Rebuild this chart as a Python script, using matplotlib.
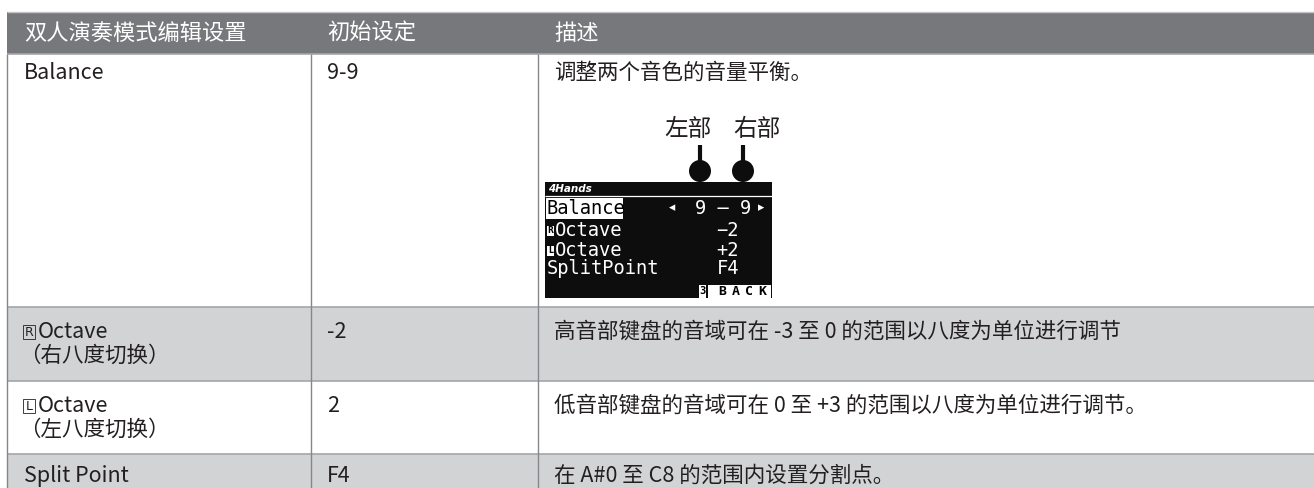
import matplotlib
matplotlib.use("Agg")
import matplotlib.pyplot as plt
from matplotlib.patches import Rectangle, Circle

plt.rcParams['font.family'] = ['Noto Sans CJK SC', 'DejaVu Sans']

# ---------------- data ----------------
headers = ["双人演奏模式编辑设置", "初始设定", "描述"]
param_names = ["Balance", "Octave", "Octave", "Split Point"]
param_icons = [None, "R", "L", None]
param_subs = [None, "（右八度切换）", "（左八度切换）", None]
defaults = ["9-9", "-2", "2", "F4"]
descriptions = [
    "调整两个音色的音量平衡。",
    "高音部键盘的音域可在 -3 至 0 的范围以八度为单位进行调节",
    "低音部键盘的音域可在 0 至 +3 的范围以八度为单位进行调节。",
    "在 A#0 至 C8 的范围内设置分割点。",
]
row_shaded = [False, True, False, True]

callout_labels = ["左部", "右部"]
lcd_title = "4Hands"
lcd_labels = ["Balance", "Octave", "Octave", "SplitPoint"]
lcd_icons = [None, "R", "L", None]
lcd_values = ["9 – 9", "−2", "+2", "F4"]
lcd_page = "3"
lcd_button = "BACK"

# ---------------- layout ----------------
W, H = 1314, 488
HEAD_BG = "#77787c"
ROW_BG = "#d1d3d4"
WHITE_BG = "#ffffff"
LINE = "#a4a6a9"
VLINE = "#86878a"
TXT = "#231f20"
LCD_BG = "#0d0d0d"
FS = 15.5
MONO = ["DejaVu Sans Mono"]

col_x = [7, 311, 538, W]
row_y = [12, 54, 307, 381, 454, H]
pad = 16

fig = plt.figure(figsize=(W / 100, H / 100), dpi=100)
ax = fig.add_axes([0, 0, 1, 1])
ax.set_xlim(0, W)
ax.set_ylim(H, 0)
ax.axis("off")

# header
ax.add_patch(Rectangle((col_x[0], row_y[0]), W - col_x[0], row_y[1] - row_y[0],
                       fc=HEAD_BG, ec="none", zorder=1))
for i, h in enumerate(headers):
    ax.text(col_x[i] + (17 if i == 0 else pad), 33, h, color="white",
            fontsize=16, va="center", ha="left", zorder=3)

# body rows
for r in range(len(param_names)):
    y0, y1 = row_y[r + 1], row_y[r + 2]
    ax.add_patch(Rectangle((col_x[0], y0), W - col_x[0], y1 - y0,
                           fc=ROW_BG if row_shaded[r] else WHITE_BG, ec="none", zorder=1))

# horizontal lines
ax.hlines(row_y[0], col_x[0], W, color="#c4c5c7", lw=1.0, zorder=2)
for y in row_y[1:-1]:
    ax.hlines(y, col_x[0], W, color=LINE, lw=1.2, zorder=2)
# vertical lines
for x in col_x[:3]:
    ax.vlines(x, row_y[1], H, color=VLINE, lw=1.0, zorder=2)

# row texts
first_line_y = [73, 332, 406, 476]
second_line_y = [None, 356, 430, None]
for r in range(len(param_names)):
    y = first_line_y[r]
    x = col_x[0] + 17
    if param_icons[r]:
        ax.add_patch(Rectangle((x - 1, y - 7), 12, 14, fc="none", ec=TXT, lw=0.6, zorder=3))
        ax.text(x + 5, y + 0.5, param_icons[r], fontsize=9, color=TXT, va="center",
                ha="center", family=["DejaVu Sans"], zorder=3)
        x += 14
    ax.text(x, y, param_names[r], fontsize=FS, color=TXT, va="center", ha="left", zorder=3)
    if param_subs[r]:
        ax.text(col_x[0] + 12, second_line_y[r], param_subs[r], fontsize=FS, color=TXT,
                va="center", ha="left", zorder=3)
    ax.text(col_x[1] + pad, y, defaults[r], fontsize=FS, color=TXT, va="center", ha="left", zorder=3)
    ax.text(col_x[2] + pad, y, descriptions[r], fontsize=FS, color=TXT, va="center", ha="left", zorder=3)

# ---------------- LCD illustration ----------------
lx0, lx1, ly0, ly1 = 545, 772, 182, 298
ax.add_patch(Rectangle((lx0, ly0), lx1 - lx0, ly1 - ly0, fc=LCD_BG, ec="none", zorder=3))
ax.hlines(196, lx0, lx1, color="white", lw=0.9, zorder=4)
ax.text(lx0 + 3, 189.5, lcd_title, fontsize=7.5, color="white", family=["DejaVu Sans"],
        fontweight="bold", style="italic", va="center", ha="left", zorder=5)

lcd_row_y = [208, 230, 250, 269]
for i, lab in enumerate(lcd_labels):
    y = lcd_row_y[i]
    x = lx0 + 2
    if i == 0:
        ax.add_patch(Rectangle((lx0 + 1, 198), 77, 21, fc="white", ec="none", zorder=4))
        ax.text(x, y, lab, fontsize=13.5, color="black", family=MONO, va="center",
                ha="left", zorder=5)
    else:
        if lcd_icons[i]:
            ax.add_patch(Rectangle((x, y - 4.5), 6.5, 10, fc="white", ec="none", zorder=4))
            ax.text(x + 3.3, y + 0.5, lcd_icons[i], fontsize=5.5, color="black",
                    family=["DejaVu Sans"], fontweight="bold", va="center", ha="center", zorder=5)
            x += 7.5
        ax.text(x, y, lab, fontsize=13.5, color="white", family=MONO, va="center",
                ha="left", zorder=5)
    if i == 0:
        ax.text(672, y, "◂", fontsize=9, color="white", family=["DejaVu Sans"],
                va="center", ha="center", zorder=5)
        ax.text(751, y, lcd_values[i], fontsize=13.5, color="white", family=MONO,
                va="center", ha="right", zorder=5)
        ax.text(761, y, "▸", fontsize=9, color="white", family=["DejaVu Sans"],
                va="center", ha="center", zorder=5)
    else:
        ax.text(739, y, lcd_values[i], fontsize=13.5, color="white", family=MONO,
                va="center", ha="right", zorder=5)

# bottom button
ax.add_patch(Rectangle((699, 285), 7, 13, fc="white", ec="none", zorder=4))
ax.text(702.5, 291.5, lcd_page, fontsize=7.5, color="black", family=MONO,
        fontweight="bold", va="center", ha="center", zorder=5)
ax.add_patch(Rectangle((708, 285), 63, 13, fc="white", ec="none", zorder=4))
for k, ch in enumerate(lcd_button):
    ax.text(722 + k * 13.3, 291.5, ch, fontsize=9.5, color="black", family=MONO,
            fontweight="bold", va="center", ha="center", zorder=5)

# callouts
circle_x = [700, 743]
label_x = [688, 757]
for cx, tx, lab in zip(circle_x, label_x, callout_labels):
    ax.vlines(cx, 145, 170, color=LCD_BG, lw=3.0, zorder=3)
    ax.add_patch(Circle((cx, 171), 11, fc=LCD_BG, ec="none", zorder=3))
    ax.text(tx, 130, lab, fontsize=17, color=TXT, va="center", ha="center", zorder=3)

fig.savefig("out.png", dpi=100)
